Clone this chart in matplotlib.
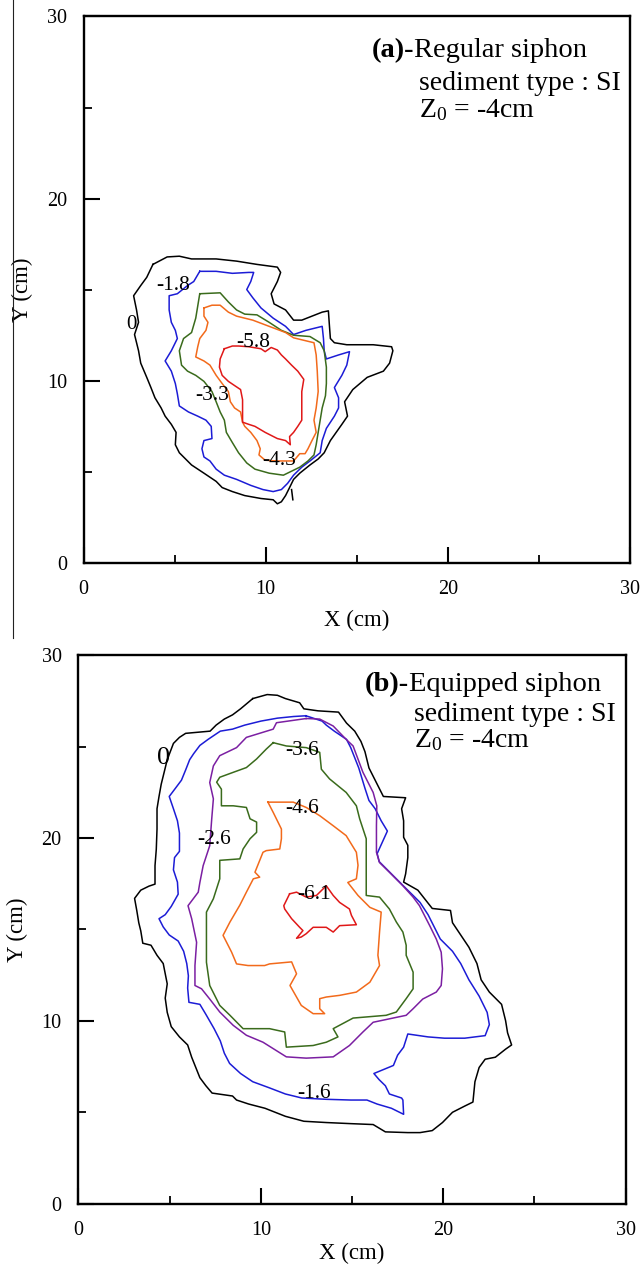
import matplotlib.pyplot as plt
from matplotlib.lines import Line2D

plt.rcParams['font.family'] = ['Liberation Serif', 'DejaVu Serif']
plt.rcParams['mathtext.fontset'] = 'custom'
plt.rcParams['mathtext.rm'] = 'Liberation Serif'
plt.rcParams['mathtext.it'] = 'Liberation Serif:italic'
plt.rcParams['mathtext.bf'] = 'Liberation Serif:bold'

# ---------------- panel (a): regular siphon, scour contours (cm) ----------------
a_levels = ['0', '-1.8', '-3.3', '-4.3', '-5.8']
a_colors = ['black', '#1c1cd6', '#3a6b1c', '#f26a1b', '#e01818']

a_c0_x = [3.81, 4.59, 5.26, 5.93, 7.28, 8.40, 9.52, 10.64, 10.82, 10.64, 10.30, 10.46, 11.09, 11.53,
          11.98, 13.10, 13.44, 13.50, 13.55, 13.77, 14.45, 15.90, 16.91, 16.98, 16.80, 16.46, 15.57,
          14.78, 14.33, 14.40, 14.49, 14.18, 13.55, 13.21, 12.88, 12.43, 11.87, 11.53, 11.31, 11.09,
          10.86, 10.64, 10.41, 9.74, 8.85, 8.17, 7.61, 7.28, 6.61, 5.93, 5.26, 5.04, 5.08, 4.82, 4.48,
          4.26, 3.92, 3.70, 3.47, 3.14, 3.02, 2.80, 3.02, 2.91, 2.75, 3.14, 3.47]
a_c0_y = [16.39, 16.80, 16.84, 16.69, 16.69, 16.57, 16.39, 16.24, 15.95, 15.45, 14.78, 14.22, 13.89,
          13.33, 13.33, 13.77, 13.84, 12.99, 12.32, 12.09, 11.98, 11.98, 11.87, 11.65, 10.97, 10.53,
          10.19, 9.52, 8.85, 8.51, 8.06, 7.61, 6.72, 6.05, 5.71, 5.38, 4.93, 4.59, 4.14, 3.70, 3.36,
          3.25, 3.47, 3.54, 3.70, 3.92, 4.14, 4.48, 4.93, 5.38, 6.05, 6.49, 7.17, 7.61, 8.06, 8.51,
          9.07, 9.63, 10.19, 10.97, 11.65, 12.54, 13.21, 13.89, 14.67, 15.23, 15.68]
a_stub_x = [11.42, 11.49]
a_stub_y = [4.03, 3.47]

a_c1_x = [6.38, 7.28, 8.17, 9.07, 9.34, 9.18, 8.96, 9.29, 9.74, 10.41, 11.09, 11.53, 12.21, 13.10,
          13.17, 13.21, 13.33, 14.00, 14.60, 14.45, 14.18, 13.77, 14.00, 14.00, 13.77, 13.33, 13.10,
          12.99, 12.43, 11.98, 11.53, 11.20, 10.86, 10.41, 9.85, 9.18, 8.40, 7.73, 7.28, 6.94, 6.61,
          6.50, 6.61, 7.05, 7.01, 6.72, 6.27, 5.76, 5.26, 5.15, 5.04, 4.82, 4.48, 4.82, 5.15, 5.04,
          4.82, 4.70, 4.70, 5.15, 5.71, 6.05]
a_c1_y = [16.01, 16.01, 15.90, 15.95, 15.95, 15.45, 15.01, 14.56, 14.00, 13.44, 12.99, 12.54, 12.77,
          12.99, 12.32, 11.65, 11.20, 11.42, 11.60, 10.86, 10.30, 9.63, 9.07, 8.51, 8.06, 7.39, 6.72,
          6.05, 5.60, 5.26, 4.82, 4.37, 4.03, 3.92, 4.03, 4.26, 4.59, 4.82, 5.15, 5.60, 5.82, 6.27,
          6.72, 6.83, 7.50, 7.84, 8.06, 8.29, 8.62, 9.29, 9.85, 10.53, 11.09, 11.65, 12.32, 12.77,
          13.21, 13.89, 14.67, 14.78, 15.23, 15.45]

a_c2_x = [6.38, 7.50, 7.95, 8.40, 8.85, 9.52, 10.19, 10.86, 11.53, 12.43, 12.99, 13.21, 13.33, 13.33,
          13.28, 13.10, 12.99, 12.88, 12.77, 12.65, 12.32, 11.87, 11.42, 10.97, 10.19, 9.41, 8.96,
          8.51, 8.17, 7.84, 7.73, 7.50, 7.28, 7.05, 6.61, 6.16, 5.71, 5.38, 5.26, 5.49, 5.93, 6.16,
          6.27]
a_c2_y = [14.78, 14.83, 14.33, 13.89, 13.66, 13.62, 13.21, 12.77, 12.50, 12.43, 12.09, 11.65, 10.75,
          9.85, 9.18, 8.51, 7.84, 7.17, 6.49, 5.93, 5.60, 5.26, 5.04, 4.82, 4.93, 5.15, 5.49, 6.05,
          6.61, 7.17, 7.84, 8.29, 8.85, 9.41, 9.97, 10.30, 10.53, 10.86, 11.65, 12.32, 12.65, 13.44,
          14.11]

a_c3_x = [6.61, 7.05, 7.50, 7.95, 8.40, 9.29, 10.19, 11.09, 11.53, 12.65, 12.77, 12.83, 12.88, 12.77,
          12.65, 12.77, 12.54, 12.32, 12.16, 11.87, 11.53, 10.64, 9.97, 9.63, 9.70, 9.52, 9.18, 8.85,
          8.73, 8.62, 8.29, 8.06, 7.95, 7.61, 7.28, 6.94, 6.61, 6.16, 6.27, 6.38, 6.72, 6.83, 6.61]
a_c3_y = [14.00, 14.15, 14.15, 13.77, 13.55, 13.33, 12.99, 12.65, 12.36, 12.09, 11.42, 10.53, 9.41,
          8.51, 7.84, 7.17, 6.72, 6.27, 6.00, 6.00, 5.60, 5.60, 5.64, 5.93, 6.27, 6.72, 7.17, 7.50,
          7.73, 8.29, 8.51, 8.85, 9.41, 9.85, 10.30, 10.86, 11.09, 11.31, 11.87, 12.32, 12.77, 13.21,
          13.55]

a_c4_x = [7.73, 8.17, 8.51, 9.07, 9.74, 9.97, 10.30, 10.64, 10.86, 11.09, 11.42, 11.76, 12.09, 11.98,
          11.98, 11.98, 11.76, 11.53, 11.31, 11.35, 11.09, 10.64, 9.97, 9.41, 9.07, 8.73, 8.73, 8.73,
          8.62, 8.29, 7.95, 7.61, 7.46, 7.50]
a_c4_y = [11.76, 11.91, 11.91, 11.87, 11.76, 11.60, 11.83, 11.69, 11.42, 11.20, 10.86, 10.53, 10.08,
          9.41, 8.51, 7.84, 7.50, 7.17, 6.94, 6.49, 6.72, 6.83, 7.17, 7.50, 7.61, 7.73, 8.40, 8.96,
          9.52, 9.74, 9.97, 10.30, 10.75, 11.20]

a_label_x = [2.62, 4.93, 7.05, 10.75, 9.29]
a_label_y = [13.10, 15.23, 9.18, 5.64, 12.09]

# ---------------- panel (b): equipped siphon ----------------
b_levels = ['0', '-1.6', '-2.6', '-3.6', '-4.6', '-6.1']
b_colors = ['black', '#1c1cd6', '#7b1fa2', '#3a6b1c', '#f26a1b', '#e01818']

b_c0_x = [9.56, 10.35, 10.91, 11.35, 12.13, 12.36, 13.14, 14.26, 14.70, 15.15, 15.49, 15.71, 15.93,
          16.38, 16.72, 17.94, 17.72, 17.83, 17.83, 18.06, 18.06, 17.94, 17.83, 18.61, 19.40, 20.40,
          20.51, 20.96, 21.41, 21.85, 22.08, 22.53, 23.20, 23.42, 23.53, 23.75, 23.42, 22.86, 22.30,
          21.97, 21.74, 21.63, 21.18, 20.51, 19.96, 19.40, 18.73, 18.06, 16.83, 16.16, 14.93, 13.59,
          12.36, 11.35, 10.23, 9.34, 8.67, 8.45, 7.33, 6.99, 6.66, 6.21, 5.99, 5.54, 5.09, 4.87, 4.76,
          4.87, 4.65, 4.31, 3.98, 3.53, 3.42, 3.31, 3.20, 3.08, 3.42, 3.87, 4.20, 4.20, 4.27, 4.31,
          4.31, 4.42, 4.54, 4.76, 4.87, 5.21, 5.54, 5.88, 6.66, 7.22, 7.55, 8.00, 8.45, 8.89]
b_c0_y = [27.62, 27.84, 27.80, 27.62, 27.39, 27.06, 26.95, 26.88, 26.28, 25.84, 25.28, 24.72, 23.83,
          22.94, 22.27, 22.20, 21.60, 20.94, 20.04, 19.60, 18.93, 18.04, 17.59, 17.15, 16.15, 16.04,
          15.37, 14.70, 14.03, 13.14, 12.25, 11.58, 10.91, 10.02, 9.35, 8.69, 8.46, 8.02, 7.91, 7.46,
          6.68, 5.57, 5.35, 5.01, 4.45, 4.01, 3.90, 3.90, 3.94, 4.34, 4.39, 4.45, 4.52, 4.79, 5.23,
          5.46, 5.68, 5.90, 6.06, 6.46, 6.90, 8.02, 8.69, 9.13, 9.69, 10.47, 11.25, 12.03, 13.14,
          13.59, 14.14, 14.25, 14.92, 15.37, 16.04, 16.70, 17.15, 17.37, 17.48, 18.49, 19.38, 20.49,
          21.60, 22.27, 22.94, 23.83, 24.28, 25.17, 25.50, 25.72, 25.79, 25.84, 26.17, 26.50, 26.73,
          27.06]

b_c1_x = [12.47, 11.80, 10.91, 10.01, 9.12, 8.45, 7.78, 7.11, 6.66, 6.32, 6.10, 5.88, 5.65, 5.32,
          4.98, 5.21, 5.43, 5.54, 5.54, 5.27, 5.21, 5.43, 5.47, 5.09, 4.76, 4.42, 4.65, 4.98, 5.47,
          5.77, 5.94, 6.03, 5.99, 6.06, 6.66, 6.99, 7.44, 7.78, 8.00, 8.29, 8.89, 9.56, 10.46, 11.35,
          12.25, 13.59, 14.93, 15.82, 16.38, 17.16, 17.83, 17.79, 17.72, 17.05, 16.83, 16.49, 16.20,
          17.27, 17.50, 17.83, 18.06, 19.17, 20.07, 21.18, 22.30, 22.53, 22.41, 21.97, 21.41, 20.96,
          20.51, 19.84, 19.17, 18.73, 18.39, 17.83, 17.16, 16.49, 16.38, 16.94, 16.60, 16.27, 15.93,
          15.71, 15.37, 14.93, 14.70, 14.03, 13.59, 13.36, 12.69]
b_c1_y = [26.68, 26.64, 26.55, 26.39, 26.17, 25.95, 25.84, 25.39, 25.06, 24.61, 24.28, 23.72, 23.16,
          22.72, 22.27, 21.60, 20.94, 20.27, 19.27, 18.93, 18.26, 17.59, 16.93, 16.26, 15.81, 15.59,
          15.14, 14.70, 14.37, 13.81, 13.14, 12.47, 11.80, 11.02, 10.91, 10.36, 9.58, 8.91, 8.24,
          7.68, 7.13, 6.68, 6.35, 6.01, 5.79, 5.72, 5.68, 5.68, 5.46, 5.23, 4.90, 5.68, 5.79, 6.01,
          6.46, 6.79, 7.13, 7.57, 8.13, 8.57, 9.29, 9.13, 9.06, 9.06, 9.20, 9.80, 10.47, 11.36,
          12.25, 13.14, 13.81, 14.48, 15.81, 16.48, 16.82, 17.37, 18.04, 18.71, 19.15, 20.38, 20.94,
          21.60, 22.05, 22.72, 23.83, 24.94, 25.39, 25.84, 26.17, 26.39, 26.61]

b_c2_x = [12.49, 10.86, 10.68, 9.21, 8.67, 7.75, 7.40, 7.20, 7.40, 7.31, 7.20, 6.84, 6.66, 6.57,
          6.01, 6.21, 6.48, 6.39, 6.39, 6.75, 7.20, 7.75, 8.49, 9.21, 10.12, 10.68, 11.40, 12.49,
          13.97, 14.86, 15.60, 16.16, 17.25, 17.97, 18.35, 18.88, 19.62, 19.89, 19.96, 19.89, 19.62,
          19.26, 18.70, 18.35, 17.79, 17.05, 16.51, 16.34, 16.34, 16.36, 16.16, 15.60, 15.06, 14.68,
          13.97, 13.23]
b_c2_y = [26.53, 26.30, 25.95, 25.50, 24.94, 24.50, 23.94, 23.03, 22.14, 21.05, 19.58, 18.49, 17.57,
          17.04, 16.30, 15.59, 14.30, 13.03, 11.94, 11.76, 11.20, 10.49, 9.76, 9.22, 8.84, 8.49,
          8.04, 7.97, 8.04, 8.66, 9.40, 9.93, 10.16, 10.31, 10.67, 11.20, 11.58, 11.94, 12.85, 13.76,
          14.48, 15.21, 16.30, 16.77, 17.39, 18.13, 18.66, 19.22, 20.67, 21.76, 22.49, 23.59, 25.03,
          25.39, 26.12, 26.50]

b_c3_x = [10.68, 11.40, 12.49, 13.23, 13.32, 13.77, 14.68, 15.24, 15.42, 15.78, 15.78, 15.78, 16.51,
          17.05, 17.43, 17.79, 17.97, 17.97, 18.35, 18.35, 17.97, 17.43, 16.87, 15.06, 13.97, 14.23,
          13.59, 12.87, 11.40, 11.31, 10.48, 9.03, 8.31, 7.75, 7.20, 7.02, 7.02, 7.40, 7.75, 7.75,
          8.85, 9.03, 9.41, 9.77, 9.77, 9.41, 9.21, 8.49, 7.84, 7.84, 7.58, 7.75, 8.49, 9.21, 9.77,
          10.30]
b_c3_y = [25.21, 25.03, 24.94, 24.68, 23.76, 23.23, 22.49, 21.76, 21.05, 19.96, 18.49, 16.86, 16.77,
          16.12, 15.41, 14.86, 14.14, 13.59, 12.67, 11.76, 11.22, 10.49, 10.31, 10.16, 9.58, 9.13,
          8.84, 8.66, 8.57, 9.40, 9.58, 9.58, 10.31, 10.85, 11.94, 13.21, 15.95, 16.68, 17.77, 18.78,
          18.86, 19.40, 19.96, 20.31, 20.87, 21.05, 21.67, 21.76, 21.76, 22.67, 23.05, 23.32, 23.59,
          23.85, 24.32, 24.86]

b_c4_x = [10.39, 11.78, 12.49, 13.23, 13.97, 14.68, 15.24, 15.33, 15.24, 14.77, 15.33, 15.98, 16.60,
          16.51, 16.42, 16.51, 15.98, 15.24, 14.32, 13.59, 13.23, 13.23, 13.50, 12.87, 12.22, 11.60,
          11.96, 11.69, 10.48, 10.21, 9.30, 8.67, 8.40, 7.93, 8.31, 8.85, 9.21, 9.59, 9.94, 9.68,
          10.12, 10.30, 11.04, 11.13, 11.13, 10.68]
b_c4_y = [21.96, 21.96, 21.67, 21.22, 20.67, 20.13, 19.22, 18.51, 17.77, 17.57, 16.86, 16.21, 15.95,
          14.86, 13.59, 13.03, 12.12, 11.58, 11.40, 11.31, 11.22, 10.67, 10.40, 10.40, 10.85, 11.94,
          12.58, 13.23, 13.12, 13.03, 13.03, 13.12, 13.76, 14.68, 15.41, 16.33, 17.04, 17.77, 17.86,
          18.13, 19.22, 19.31, 19.40, 19.96, 20.49, 21.40]

b_c5_x = [11.58, 11.96, 12.49, 13.05, 13.59, 13.97, 14.32, 14.86, 14.97, 15.24, 14.32, 13.97, 13.59,
          12.87, 12.49, 12.22, 11.96, 12.31, 12.13, 11.69, 11.31, 11.26]
b_c5_y = [16.95, 17.04, 16.77, 16.86, 17.39, 16.86, 16.48, 16.12, 15.77, 15.26, 15.21, 14.86, 15.12,
          15.12, 14.77, 14.59, 14.52, 14.94, 15.12, 15.59, 16.12, 16.30]

b_label_x = [4.65, 12.92, 7.44, 12.25, 12.25, 12.92]
b_label_y = [24.39, 6.01, 19.93, 24.77, 21.60, 16.93]


def closed(v):
    return list(v) + [v[0]]


def style_axes(ax, xlab_y):
    ax.set_xlim(0, 30)
    ax.set_ylim(0, 30)
    ax.set_xticks([0, 10, 20, 30])
    ax.set_yticks([0, 10, 20, 30])
    ax.set_xticks([5, 15, 25], minor=True)
    ax.set_yticks([5, 15, 25], minor=True)
    ax.tick_params(which='both', direction='in', top=False, right=False, labelsize=14.5)
    ax.tick_params(which='major', length=11.5, width=1.5)
    ax.tick_params(which='minor', length=5.8, width=1.3)
    ax.tick_params(axis='x', pad=12)
    ax.tick_params(axis='y', pad=12)
    for s in ax.spines.values():
        s.set_linewidth(1.7)
    ax.set_xlabel('X (cm)', fontsize=16.5)
    ax.set_ylabel('Y (cm)', fontsize=16.5)
    ax.xaxis.set_label_coords(0.5, xlab_y)
    ax.yaxis.set_label_coords(-0.092, 0.5)


def title_block(ax, tag, name, x0, x1, y1, y2, y3):
    t1 = ax.text(x0, y1, tag, fontsize=20.5, fontweight='bold', va='baseline', ha='left')
    ax.annotate(name, xy=(1, 0), xycoords=t1, va='bottom', ha='left', fontsize=20.5)
    ax.text(x1, y2, 'sediment type : SI', fontsize=20, va='baseline', ha='left')
    ax.text(x1, y3, r'Z$_0$ = -4cm', fontsize=20, va='baseline', ha='left')


fig = plt.figure(figsize=(6.4, 12.66), dpi=100)
ax_a = fig.add_axes([0.1305, 0.5553, 0.854, 0.4317])
ax_b = fig.add_axes([0.1225, 0.0490, 0.855, 0.4336])

# panel (a)
a_x = [a_c0_x, a_c1_x, a_c2_x, a_c3_x, a_c4_x]
a_y = [a_c0_y, a_c1_y, a_c2_y, a_c3_y, a_c4_y]
for xs, ys, c in zip(a_x, a_y, a_colors):
    ax_a.plot(closed(xs), closed(ys), color=c, lw=1.1)
ax_a.plot(a_stub_x, a_stub_y, color='black', lw=1.1)
for i, (lab, lx, ly) in enumerate(zip(a_levels, a_label_x, a_label_y)):
    ax_a.text(lx, ly, lab, fontsize=15 if i == 0 else 15.5, ha='center', va='center')
style_axes(ax_a, -0.086)
title_block(ax_a, '(a)-', 'Regular siphon', 15.83, 18.41, 27.79, 25.96, 24.5)

# panel (b)
b_x = [b_c0_x, b_c1_x, b_c2_x, b_c3_x, b_c4_x, b_c5_x]
b_y = [b_c0_y, b_c1_y, b_c2_y, b_c3_y, b_c4_y, b_c5_y]
for xs, ys, c in zip(b_x, b_y, b_colors):
    ax_b.plot(closed(xs), closed(ys), color=c, lw=1.1)
for i, (lab, lx, ly) in enumerate(zip(b_levels, b_label_x, b_label_y)):
    ax_b.text(lx, ly, lab, fontsize=19 if i == 0 else 15.5, ha='center', va='center')
style_axes(ax_b, -0.070)
title_block(ax_b, '(b)-', 'Equipped siphon', 15.71, 18.40, 28.01, 26.38, 24.98)

# thin separator line at the left edge of the page
fig.add_artist(Line2D([13 / 640, 13 / 640], [1.0, 1 - 638 / 1266],
                      transform=fig.transFigure, color='#222222', lw=0.8))

fig.savefig('out.png', dpi=100)
